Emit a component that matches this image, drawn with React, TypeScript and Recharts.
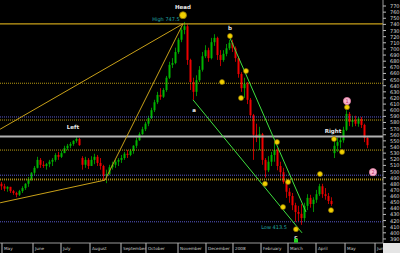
import { ComposedChart, Bar, XAxis, YAxis, ReferenceLine, ReferenceDot } from 'recharts'

// candles, roughly two trading days each, May 2007 - May 2008
const opens = [480, 476, 472, 475, 468, 465, 462, 468, 473, 480,
  488, 498, 506, 519, 511, 509, 512, 516, 519, 527,
  524, 530, 538, 542, 545, 550, 553, 522, 511, 519,
  509, 519, 524, 514, 509, 493, 496, 507, 511, 516,
  519, 522, 529, 527, 534, 542, 551, 561, 569, 578,
  587, 600, 613, 625, 622, 633, 653, 674, 677, 695,
  715, 731, 737, 682, 646, 630, 649, 666, 688, 698,
  685, 711, 718, 690, 682, 692, 701, 710, 701, 685,
  659, 636, 643, 617, 592, 560, 555, 561, 519, 502,
  516, 527, 535, 509, 499, 483, 467, 460, 445, 434,
  431, 424, 444, 457, 447, 454, 463, 476, 463, 460,
  452, 530, 542, 548, 551, 568, 594, 581, 584, 578,
  586, 576, 555]
const highs = [483, 480, 476, 475, 470, 467, 470, 476, 481, 491,
  499, 509, 524, 522, 517, 514, 519, 522, 530, 532,
  534, 542, 545, 548, 551, 556, 555, 525, 524, 522,
  525, 529, 527, 522, 511, 503, 511, 516, 519, 522,
  527, 532, 535, 537, 543, 555, 564, 573, 581, 591,
  604, 617, 630, 636, 636, 656, 679, 685, 702, 718,
  734, 744, 740, 684, 653, 657, 672, 695, 706, 702,
  718, 724, 720, 698, 698, 708, 715, 715, 704, 688,
  662, 653, 646, 620, 594, 578, 573, 563, 522, 525,
  532, 547, 538, 516, 506, 485, 473, 465, 449, 444,
  447, 449, 463, 462, 458, 470, 480, 480, 473, 465,
  458, 551, 555, 558, 573, 600, 597, 591, 591, 589,
  589, 578, 558]
const lows = [470, 468, 467, 465, 462, 458, 460, 465, 470, 475,
  485, 494, 505, 506, 506, 503, 507, 509, 516, 519,
  522, 530, 535, 538, 542, 547, 542, 503, 506, 504,
  509, 512, 509, 503, 486, 481, 494, 503, 506, 509,
  514, 519, 522, 525, 529, 538, 550, 560, 566, 574,
  586, 597, 610, 617, 620, 630, 651, 669, 675, 692,
  711, 724, 674, 633, 617, 623, 646, 663, 685, 679,
  683, 705, 682, 672, 679, 688, 698, 695, 679, 653,
  630, 620, 610, 587, 519, 548, 535, 511, 490, 499,
  509, 516, 502, 490, 480, 457, 449, 437, 418, 419,
  413, 418, 437, 441, 434, 449, 460, 457, 454, 447,
  444, 522, 532, 538, 547, 566, 574, 573, 574, 573,
  571, 548, 538]
const closes = [476, 472, 475, 468, 465, 462, 468, 473, 480, 488,
  498, 506, 519, 511, 509, 512, 516, 519, 527, 524,
  530, 538, 542, 545, 550, 553, 543, 511, 519, 509,
  519, 524, 514, 509, 493, 496, 507, 511, 516, 519,
  522, 529, 527, 534, 542, 551, 561, 569, 578, 587,
  600, 613, 625, 622, 633, 653, 674, 677, 695, 715,
  731, 737, 682, 646, 630, 649, 666, 688, 698, 685,
  711, 718, 690, 682, 692, 701, 710, 701, 685, 659,
  636, 643, 617, 592, 560, 555, 561, 519, 502, 516,
  527, 535, 509, 499, 483, 467, 460, 445, 434, 431,
  424, 444, 457, 447, 454, 463, 476, 463, 460, 452,
  447, 542, 548, 551, 568, 594, 581, 584, 578, 586,
  576, 555, 543]

const monthTicks = [0.33, 10.67, 20, 29.67, 40, 48.33, 59, 68.33, 77.33, 86.67, 95.67, 105, 114.67, 124.67]
const monthLabels = ['May', 'June', 'July', 'August', 'September', 'October', 'November', 'December', '2008', 'February', 'March', 'April', 'May', 'June']
const priceTicks = Array.from({ length: 39 }, (_, k) => 770 - k * 10)

const levels = [741, 644, 589, 584, 557, 535, 494, 487, 418]
const levelKinds = ['goldSolid', 'goldDot', 'blueDot', 'goldDot', 'gray', 'goldDot', 'blueDot', 'goldThick', 'blueDot']

// trend lines as [x1, y1, x2, y2] in index / price
const goldLines = [
  [-0.3, 449, 34.67, 486],
  [34.67, 486, 60.67, 741],
  [-0.3, 569, 60.67, 741],
]
const greenLines = [
  [64, 617, 100.33, 400],
  [76.33, 718, 101.67, 434],
]

const pivots = [
  [76.33, 721], [73.67, 646], [80, 620], [81.67, 664], [92, 548], [88, 480],
  [95.67, 483], [94, 442], [98.33, 406], [106.33, 496], [110, 437], [111, 553],
  [113.67, 532], [115.33, 605],
]
const headMark = [60.67, 755]
const numbered = [
  { x: 115.33, y: 615, n: '1' },
  { x: 124, y: 499, n: '2' },
]
const whiteNotes = [
  { x: 60.67, y: 769, t: 'Head' },
  { x: 76.33, y: 734, t: 'b' },
  { x: 64.33, y: 600, t: 'a' },
  { x: 98.33, y: 393, t: 'c' },
  { x: 24, y: 573, t: 'Left' },
  { x: 110.67, y: 566, t: 'Right' },
]
const tealNotes = [
  { x: 55, y: 749, t: 'High 747.5' },
  { x: 91, y: 409, t: 'Low 413.5' },
]

const data = opens.map((o, i) => ({ i, open: o, high: highs[i], low: lows[i], close: closes[i] }))

const levelStyle: Record<string, { stroke: string; dash?: string; w: number }> = {
  goldSolid: { stroke: '#c8a018', w: 1.2 },
  goldDot: { stroke: '#b89a10', dash: '1 1', w: 1 },
  goldThick: { stroke: '#a88a10', dash: '1 1', w: 2 },
  blueDot: { stroke: '#5858c8', dash: '1 1', w: 1 },
  gray: { stroke: '#b0b0b0', w: 2 },
}

const font = 'DejaVu Sans, sans-serif'

function Candle(props: any) {
  const { x, y, width, height, payload } = props
  const { open, close, high, low } = payload
  const top = Math.min(y, y + height)
  const h = Math.abs(height)
  const k = h / (high - low || 1)
  const cx = x + width / 2
  const color = close >= open ? '#00b400' : '#ee0000'
  const bodyTop = top + (high - Math.max(open, close)) * k
  const bodyH = Math.max(Math.abs(open - close) * k, 1)
  return (
    <g>
      <line x1={cx} x2={cx} y1={top} y2={top + h} stroke={color} strokeWidth={0.8} />
      <rect x={cx - 1} y={bodyTop} width={2} height={bodyH} fill={color} />
    </g>
  )
}

function PriceTick({ x, y, payload }: any) {
  return (
    <g>
      <line x1={x} x2={x + 3} y1={y} y2={y} stroke="#bbb" />
      <text x={x + 7} y={y} dy={2} fontSize={5} fill="#ddd" fontFamily={font}>{payload.value}</text>
    </g>
  )
}

function MonthTick({ x, y, index }: any) {
  return (
    <g>
      <line x1={x} x2={x} y1={y} y2={y + 10} stroke="#bbb" />
      <text x={x + 2} y={y + 7} fontSize={4.2} fill="#ccc" fontFamily={font}>{monthLabels[index]}</text>
    </g>
  )
}

export default function App() {
  return (
    <div style={{ position: 'absolute', left: 0, top: 0, width: 400, height: 253, background: '#000' }}>
      <ComposedChart width={400} height={253} data={data} margin={{ top: 0, right: 0, bottom: 0, left: 0 }}>
        <XAxis
          dataKey="i"
          type="number"
          domain={[-1 / 3, 127.33]}
          allowDataOverflow
          ticks={monthTicks}
          interval={0}
          height={10}
          tickSize={0}
          tickMargin={0}
          tickLine={false}
          axisLine={{ stroke: '#999' }}
          tick={<MonthTick />}
        />
        <YAxis
          orientation="right"
          type="number"
          domain={[383.4, 779.8]}
          allowDataOverflow
          ticks={priceTicks}
          interval={0}
          width={17}
          tickSize={0}
          tickMargin={0}
          tickLine={false}
          axisLine={{ stroke: '#999' }}
          tick={<PriceTick />}
        />
        {levels.map((v, k) => {
          const s = levelStyle[levelKinds[k]]
          return <ReferenceLine key={'l' + k} y={v} stroke={s.stroke} strokeDasharray={s.dash} strokeWidth={s.w} ifOverflow="visible" />
        })}
        {goldLines.map((l, k) => (
          <ReferenceLine key={'g' + k} segment={[{ x: l[0], y: l[1] }, { x: l[2], y: l[3] }]} stroke="#c8a018" strokeWidth={1} ifOverflow="visible" />
        ))}
        {greenLines.map((l, k) => (
          <ReferenceLine key={'n' + k} segment={[{ x: l[0], y: l[1] }, { x: l[2], y: l[3] }]} stroke="#3ee03e" strokeWidth={1} ifOverflow="visible" />
        ))}
        <Bar dataKey={(d: any) => [d.low, d.high]} barSize={2} shape={<Candle />} isAnimationActive={false} />
        {pivots.map((p, k) => (
          <ReferenceDot key={'p' + k} x={p[0]} y={p[1]} r={2.5} fill="#f2d000" stroke="#8a7000" strokeWidth={0.6} ifOverflow="visible" />
        ))}
        <ReferenceDot x={headMark[0]} y={headMark[1]} r={3.5} fill="#f2d000" stroke="#8a7000" strokeWidth={0.8} ifOverflow="visible" />
        {numbered.map((p, k) => (
          <ReferenceDot
            key={'m' + k}
            x={p.x}
            y={p.y}
            ifOverflow="visible"
            shape={(s: any) => (
              <g>
                <circle cx={s.cx} cy={s.cy} r={3.6} fill="#f6b8d0" stroke="#e07aa0" strokeWidth={0.8} />
                <text x={s.cx} y={s.cy} dy={1.8} textAnchor="middle" fontSize={5} fill="#c0306a" fontFamily={font}>{p.n}</text>
              </g>
            )}
          />
        ))}
        {whiteNotes.map((p, k) => (
          <ReferenceDot
            key={'w' + k}
            x={p.x}
            y={p.y}
            ifOverflow="visible"
            shape={(s: any) => (
              <text x={s.cx} y={s.cy} dy={2} textAnchor="middle" fontSize={5.5} fontWeight="bold" fill="#e8e8e8" fontFamily={font}>{p.t}</text>
            )}
          />
        ))}
        {tealNotes.map((p, k) => (
          <ReferenceDot
            key={'t' + k}
            x={p.x}
            y={p.y}
            ifOverflow="visible"
            shape={(s: any) => (
              <text x={s.cx} y={s.cy} dy={2} textAnchor="middle" fontSize={5} fill="#20a8a8" fontFamily={font}>{p.t}</text>
            )}
          />
        ))}
        <ReferenceDot
          x={98.33}
          y={384}
          ifOverflow="visible"
          shape={(s: any) => <rect x={s.cx - 2} y={s.cy - 4} width={4} height={4} fill="#20d020" />}
        />
      </ComposedChart>
      <div style={{ position: 'absolute', left: 383, top: 243, width: 17, height: 10, background: '#e4e4e4' }} />
    </div>
  )
}
